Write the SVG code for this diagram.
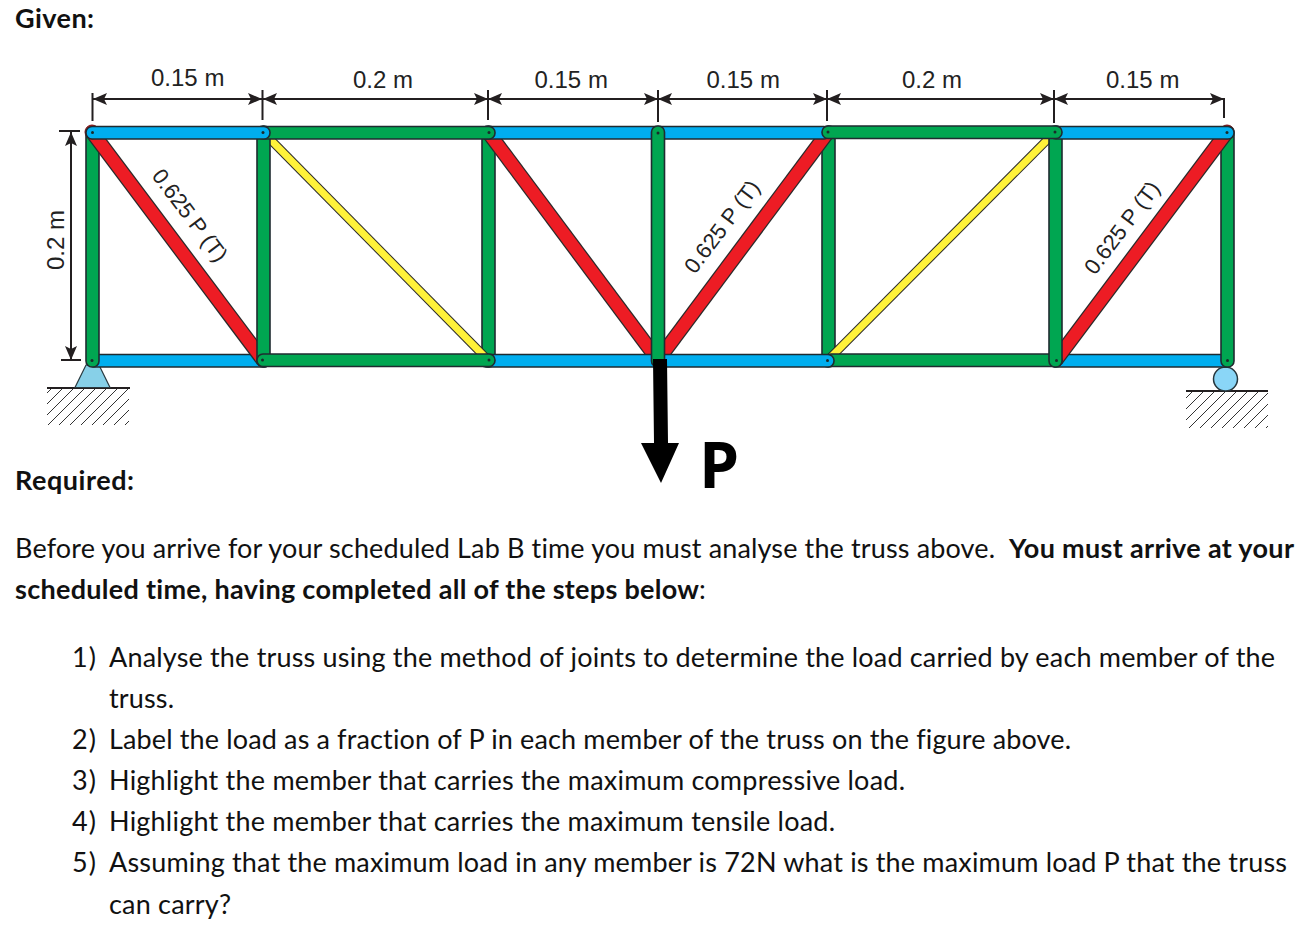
<svg xmlns="http://www.w3.org/2000/svg" width="1306" height="926" viewBox="0 0 1306 926">
<style>
.b{font-family:"Lato","Open Sans",sans-serif;font-size:27px;fill:#111;font-variant-ligatures:none}
.bb{font-weight:700}
.d{font-family:"Liberation Sans",Arial,sans-serif;font-size:24px;fill:#222}
.r{font-family:"Liberation Sans",Arial,sans-serif;font-size:22px;fill:#222}
.dim{stroke:#231f20;stroke-width:2;fill:none}
.blue{fill:#00aeef;stroke:#1f2b30;stroke-width:1.6}
.green{fill:#00a651;stroke:#1f2b30;stroke-width:1.6}
.red{stroke:#ed1c24;stroke-width:12.5;fill:none}
.redo{stroke:#2a2a2a;stroke-width:15;fill:none}
.yel{stroke:#fff23a;stroke-width:7;fill:none}
.yelo{stroke:#2a2a2a;stroke-width:9;fill:none}
.pin{fill:#1a2a2a}
.gnd{stroke:#231f20;stroke-width:2}
</style>
<defs>
<marker id="ah" markerUnits="userSpaceOnUse" markerWidth="14" markerHeight="12" refX="14" refY="6" orient="auto-start-reverse"><path d="M0 0L14 6L0 12L3 6Z" fill="#231f20"/></marker>
<pattern id="hatch" patternUnits="userSpaceOnUse" width="11" height="11"><path d="M-1 12L12 -1M-1 1L1 -1M10 12L12 10" stroke="#333" stroke-width="1" fill="none"/></pattern>
</defs>

<g id="supports">
<rect x="47" y="388" width="82" height="37" fill="url(#hatch)"/>
<line class="gnd" x1="47" y1="388" x2="130" y2="388"/>
<path d="M86 365H99L110 387.500H75Z" fill="#87d0e8" stroke="#2a3a40" stroke-width="1.200"/>
<rect x="1186" y="391" width="82" height="37" fill="url(#hatch)"/>
<line class="gnd" x1="1186" y1="391" x2="1268" y2="391"/>
<circle cx="1225.500" cy="379" r="12" fill="#8ad6f7" stroke="#26363c" stroke-width="1.500"/>
</g>

<g id="connectors">
<g id="inner-members">
<rect class="green" x="482" y="126" width="13" height="241" rx="6"/>
<rect class="green" x="822" y="126" width="13" height="241" rx="6"/>
<line class="yelo" x1="263" y1="132" x2="488" y2="360"/><line class="yel" x1="263" y1="132" x2="488" y2="360"/>
<line class="redo" x1="488" y1="132" x2="658" y2="360"/><line class="red" x1="488" y1="132" x2="658" y2="360"/>
<line class="redo" x1="658" y1="360" x2="828" y2="132"/><line class="red" x1="658" y1="360" x2="828" y2="132"/>
<line class="yelo" x1="828" y1="360" x2="1055" y2="132"/><line class="yel" x1="828" y1="360" x2="1055" y2="132"/>
</g>
<g id="left-panel">
<rect class="blue" x="92" y="354.500" width="175" height="12.500" rx="2"/>
<rect class="green" x="86" y="126" width="13" height="241" rx="6"/>
<line class="redo" x1="92" y1="132" x2="263" y2="360"/><line class="red" x1="92" y1="132" x2="263" y2="360"/>
<circle cx="92" cy="132" r="7" fill="#ed1c24" stroke="#7a1a1a"/>
<rect class="green" x="257" y="126" width="13" height="241" rx="6"/>
</g>
<g id="right-panel">
<rect class="blue" x="1053" y="354.500" width="175" height="12.500" rx="2"/>
<rect class="green" x="1221" y="126" width="13" height="241" rx="6"/>
<line class="redo" x1="1227" y1="132" x2="1056" y2="360"/><line class="red" x1="1227" y1="132" x2="1056" y2="360"/>
<circle cx="1227" cy="132" r="7" fill="#ed1c24" stroke="#7a1a1a"/>
<rect class="green" x="825" y="354" width="237" height="12.500" rx="6"/>
<rect class="green" x="1049" y="126" width="13" height="241" rx="6"/>
</g>
<g id="chords">
<rect class="blue" x="480" y="354.500" width="354" height="12.500" rx="6"/>
<rect class="green" x="257" y="354" width="238" height="12.500" rx="6"/>
<rect class="blue" x="480" y="126.500" width="350" height="12.500" rx="6"/>
<rect class="green" x="651.500" y="126" width="13" height="241" rx="6"/>
<rect class="blue" x="1050" y="126.500" width="184" height="12.500" rx="6"/>
<rect class="green" x="257" y="126.500" width="238" height="12.500" rx="6"/>
<rect class="blue" x="86" y="126.500" width="184" height="12.500" rx="6"/>
<rect class="green" x="822" y="126" width="240" height="12.500" rx="6"/>
</g>
<g id="pins" class="pin">
<circle cx="92.500" cy="132.500" r="1.500"/><circle cx="263" cy="132.500" r="1.500"/><circle cx="489" cy="132.500" r="1.500"/><circle cx="658" cy="133" r="1.500"/><circle cx="828" cy="132" r="1.500"/><circle cx="1055" cy="132" r="1.500"/><circle cx="1227" cy="132.500" r="1.500"/>
<circle cx="92" cy="360.500" r="1.500"/><circle cx="262.500" cy="360" r="1.500"/><circle cx="489" cy="360" r="1.500"/><circle cx="827.500" cy="360.500" r="1.500"/><circle cx="1056.500" cy="360.500" r="1.500"/><circle cx="1227.500" cy="360.500" r="1.500"/>
</g>
<g id="dimensions">
<path class="dim" d="M92.500 93V121M262.500 90V120M488 90V120M658 90V122M827 90V121M1054 90V123M1224 98V118M59 131H80M61 360H81"/>
<line class="dim" x1="93" y1="99" x2="262" y2="99" marker-start="url(#ah)" marker-end="url(#ah)"/>
<line class="dim" x1="263" y1="99" x2="488" y2="99" marker-start="url(#ah)" marker-end="url(#ah)"/>
<line class="dim" x1="488" y1="99" x2="658" y2="99" marker-start="url(#ah)" marker-end="url(#ah)"/>
<line class="dim" x1="658" y1="99" x2="827" y2="99" marker-start="url(#ah)" marker-end="url(#ah)"/>
<line class="dim" x1="827" y1="99" x2="1054" y2="99" marker-start="url(#ah)" marker-end="url(#ah)"/>
<line class="dim" x1="1054" y1="99" x2="1224" y2="99" marker-start="url(#ah)" marker-end="url(#ah)"/>
<line class="dim" x1="71" y1="132" x2="71" y2="360" marker-start="url(#ah)" marker-end="url(#ah)"/>
</g>
<path id="load" d="M653 359H667L668 443H679L661 483L641 443H654Z" fill="#000"/>
</g>

<g id="labels">
<text class="d" x="151" y="86">0.15 m</text>
<text class="d" x="353" y="88">0.2 m</text>
<text class="d" x="534.500" y="88">0.15 m</text>
<text class="d" x="706.500" y="88">0.15 m</text>
<text class="d" x="902" y="88">0.2 m</text>
<text class="d" x="1106" y="88">0.15 m</text>
<text class="d" transform="translate(64 270) rotate(-90)">0.2 m</text>
<text class="r" transform="translate(151 176) rotate(53)">0.625 P (T)</text>
<text class="r" transform="translate(695 275) rotate(-53)">0.625 P (T)</text>
<text class="r" transform="translate(1095 276) rotate(-53)">0.625 P (T)</text>
<text x="699" y="488" style="font-family:'Open Sans',sans-serif;font-weight:700;font-size:64px;fill:#000">P</text>
</g>

<g id="text">
<text class="b bb" x="15" y="28" textLength="79">Given:</text>
<text class="b bb" x="15" y="490" textLength="119">Required:</text>
<text class="b" x="15" y="558" textLength="980">Before you arrive for your scheduled Lab B time you must analyse the truss above.</text>
<text class="b bb" x="1009" y="558" textLength="285">You must arrive at your</text>
<text class="b bb" x="15" y="599" textLength="684">scheduled time, having completed all of the steps below</text>
<text class="b" x="699" y="599">:</text>
<text class="b" x="72" y="667" textLength="24">1)</text>
<text class="b" x="109" y="667" textLength="1166">Analyse the truss using the method of joints to determine the load carried by each member of the</text>
<text class="b" x="109" y="708" textLength="65">truss.</text>
<text class="b" x="72" y="749" textLength="24">2)</text>
<text class="b" x="109" y="749" textLength="962">Label the load as a fraction of P in each member of the truss on the figure above.</text>
<text class="b" x="72" y="790" textLength="24">3)</text>
<text class="b" x="109" y="790" textLength="796">Highlight the member that carries the maximum compressive load.</text>
<text class="b" x="72" y="831" textLength="24">4)</text>
<text class="b" x="109" y="831" textLength="726">Highlight the member that carries the maximum tensile load.</text>
<text class="b" x="72" y="872" textLength="24">5)</text>
<text class="b" x="109" y="872" textLength="1178">Assuming that the maximum load in any member is 72N what is the maximum load P that the truss</text>
<text class="b" x="109" y="914" textLength="122">can carry?</text>
</g>
</svg>
